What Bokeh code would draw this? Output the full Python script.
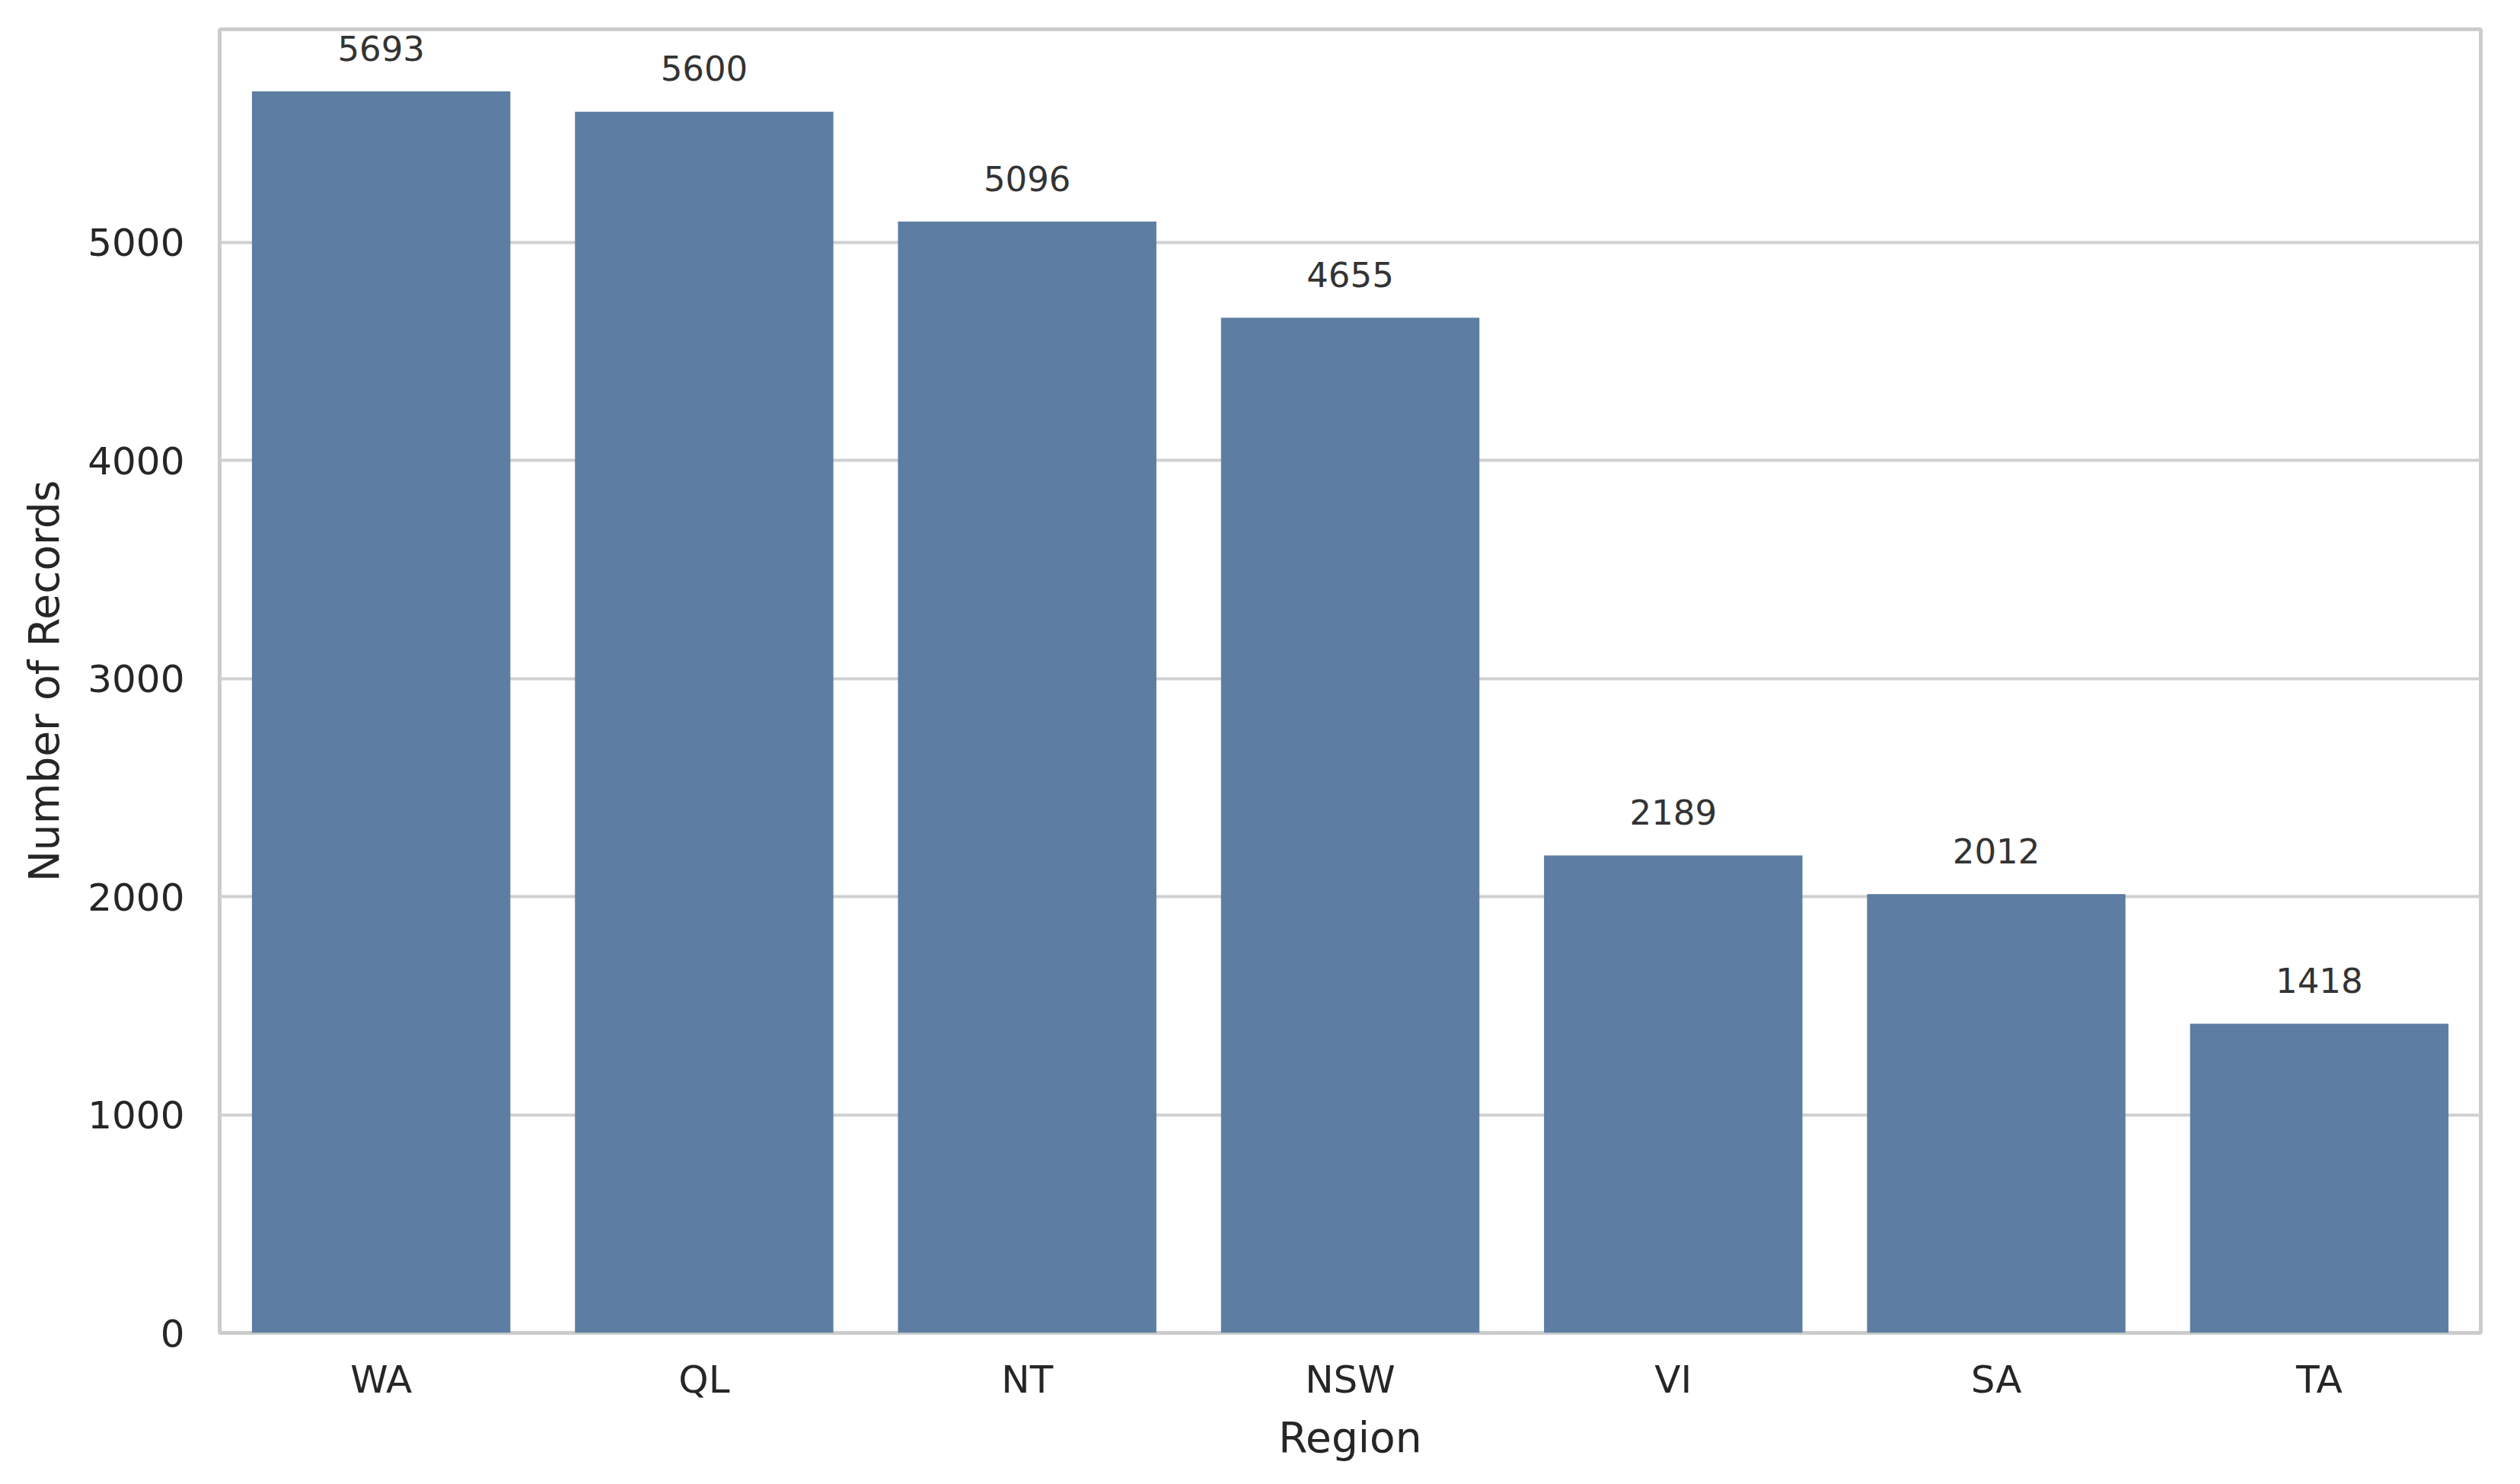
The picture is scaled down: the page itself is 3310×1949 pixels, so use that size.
from bokeh.plotting import figure
from bokeh.models import ColumnDataSource, FixedTicker, Range1d, FactorRange
from bokeh.core.properties import value
from bokeh.embed import file_html
from bokeh.resources import INLINE

regions = ["WA", "QL", "NT", "NSW", "VI", "SA", "TA"]
counts = [5693, 5600, 5096, 4655, 2189, 2012, 1418]
y_ticks = [0, 1000, 2000, 3000, 4000, 5000]
labels = [str(c) for c in counts]

FONT = "DejaVu Sans"
TEXT = "#262626"
BAR = "#5d7ea2"
EDGE = "#cccccc"

src = ColumnDataSource(dict(region=regions, count=counts, label=labels))

p = figure(
    x_range=FactorRange(*regions, range_padding=0),
    y_range=Range1d(0, max(counts) * 1.05),
    width=3294, height=1933,
    min_border_left=288, min_border_right=36,
    min_border_top=38, min_border_bottom=183,
    output_backend="svg", toolbar_location=None,
    background_fill_color="white", border_fill_color="white",
)

p.vbar(x="region", top="count", width=0.8, source=src,
       fill_color=BAR, line_color=None)

p.text(x="region", y="count", text="label", source=src,
       text_font=value(FONT), text_font_size="45px", text_color="#333333",
       text_align="center", text_baseline="alphabetic", y_offset=-57)

p.outline_line_color = EDGE
p.outline_line_width = 5

p.xgrid.grid_line_color = None
p.ygrid.grid_line_color = "#d0d0d0"
p.ygrid.grid_line_width = 4
p.yaxis.ticker = FixedTicker(ticks=y_ticks)

for ax in (p.xaxis[0], p.yaxis[0]):
    ax.axis_line_color = None
    ax.major_tick_line_color = None
    ax.minor_tick_line_color = None
    ax.major_tick_out = 0
    ax.major_tick_in = 0
    ax.minor_tick_out = 0
    ax.minor_tick_in = 0
    ax.major_label_text_font = FONT
    ax.major_label_text_font_size = "50px"
    ax.major_label_text_color = TEXT
    ax.axis_label_text_font = FONT
    ax.axis_label_text_font_size = "55px"
    ax.axis_label_text_font_style = "normal"
    ax.axis_label_text_color = TEXT

p.xaxis.axis_label = "Region"
p.yaxis.axis_label = "Number of Records"
p.xaxis.major_label_standoff = 32
p.xaxis.axis_label_standoff = 12
p.yaxis.major_label_standoff = 46
p.yaxis.axis_label_standoff = 22

open("out.html", "w").write(file_html(p, INLINE))
